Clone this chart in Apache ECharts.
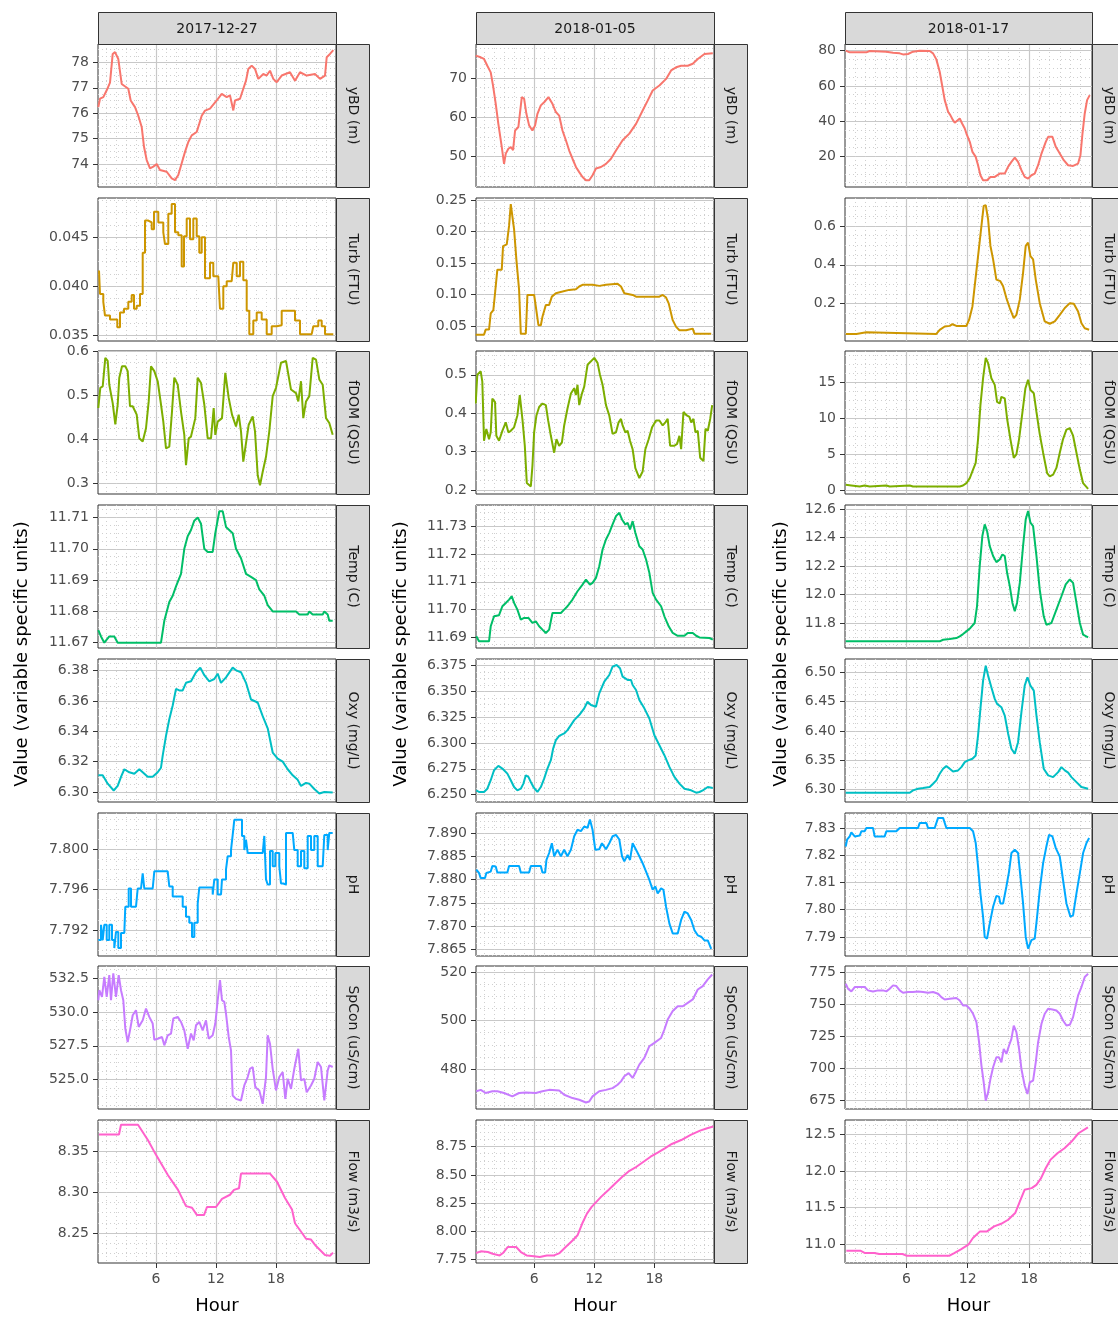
<!DOCTYPE html>
<html><head><meta charset="utf-8">
<script src="https://cdn.jsdelivr.net/npm/echarts@6/dist/echarts.min.js"></script>
<style>html,body{margin:0;padding:0;background:#fff}#c{width:1118px;height:1317px}</style>
</head><body><div id="c"></div>
<script>
// ---------------- DATA ----------------
const dates = ['2017-12-27', '2018-01-05', '2018-01-17'];
const variables = ['yBD (m)', 'Turb (FTU)', 'fDOM (QSU)', 'Temp (C)', 'Oxy (mg/L)', 'pH', 'SpCon (uS/cm)', 'Flow (m3/s)'];
const hourTicks = [6, 12, 18];
const xTitle = 'Hour';
const yTitle = 'Value (variable specific units)';

// hour range shown by each column
const hourRange = [[0.2, 24.0], [0.2, 23.95], [0.0, 24.15]];

// y ranges per panel
const yRange_1227 = [[73.1, 78.72], [0.0344, 0.0490], [0.2754, 0.6007], [11.6683, 11.714], [6.2934, 6.3877], [7.78942, 7.80357], [522.83, 533.39], [8.2132, 8.3888]];
const yRange_0105 = [[42.2, 78.64], [0.026, 0.2532], [0.1894, 0.5619], [11.6862, 11.7376], [6.2429, 6.3814], [7.86355, 7.8943], [463.5, 522.5], [7.721, 8.986]];
const yRange_0117 = [[2.5, 83.8], [0.0085, 0.7433], [-0.57, 19.4], [11.624, 12.63], [6.2791, 6.5226], [7.783, 7.8355], [668.5, 780.25], [10.741, 12.695]];

// y tick labels per panel
const yTicks_1227 = [['74','75','76','77','78'], ['0.035','0.040','0.045'], ['0.3','0.4','0.5','0.6'], ['11.67','11.68','11.69','11.70','11.71'], ['6.30','6.32','6.34','6.36','6.38'], ['7.792','7.796','7.800'], ['525.0','527.5','530.0','532.5'], ['8.25','8.30','8.35']];
const yTicks_0105 = [['50','60','70'], ['0.05','0.10','0.15','0.20','0.25'], ['0.2','0.3','0.4','0.5'], ['11.69','11.70','11.71','11.72','11.73'], ['6.250','6.275','6.300','6.325','6.350','6.375'], ['7.865','7.870','7.875','7.880','7.885','7.890'], ['480','500','520'], ['7.75','8.00','8.25','8.50','8.75']];
const yTicks_0117 = [['20','40','60','80'], ['0.2','0.4','0.6'], ['0','5','10','15'], ['11.8','12.0','12.2','12.4','12.6'], ['6.30','6.35','6.40','6.45','6.50'], ['7.79','7.80','7.81','7.82','7.83'], ['675','700','725','750','775'], ['11.0','11.5','12.0','12.5']];

// ---- 2017-12-27 : [hour, value]
const yBD_1227 = [[0.23,76.24],[0.4,76.57],[0.73,76.63],[1.07,76.9],[1.4,77.2],[1.67,78.33],[1.9,78.4],[2.23,78.13],[2.57,77.15],[2.73,77.08],[3.23,76.96],[3.47,76.5],[3.9,76.24],[4.23,75.9],[4.57,75.46],[4.8,74.68],[5.07,74.16],[5.4,73.83],[5.73,73.9],[6.07,74.0],[6.4,73.77],[7.07,73.7],[7.57,73.44],[7.9,73.37],[8.23,73.57],[8.57,74.03],[8.9,74.48],[9.23,74.87],[9.57,75.13],[10.07,75.26],[10.33,75.59],[10.57,75.9],[10.9,76.1],[11.4,76.18],[12.07,76.5],[12.57,76.76],[13.07,76.63],[13.4,76.7],[13.73,76.11],[13.9,76.5],[14.4,76.57],[14.73,76.96],[15.0,77.28],[15.23,77.74],[15.57,77.87],[15.9,77.74],[16.23,77.35],[16.73,77.54],[17.07,77.48],[17.4,77.67],[17.73,77.35],[18.07,77.22],[18.57,77.48],[19.4,77.61],[19.9,77.28],[20.4,77.61],[21.07,77.48],[21.9,77.54],[22.4,77.35],[22.9,77.48],[23.07,78.2],[23.4,78.33],[23.73,78.48]];
const turb_1227 = [[0.3,0.0416],[0.4,0.0392],[0.73,0.0384],[0.9,0.037],[1.4,0.0366],[1.9,0.0366],[2.13,0.0358],[2.4,0.0373],[2.8,0.0377],[3.23,0.0384],[3.57,0.0391],[3.8,0.0377],[4.07,0.038],[4.4,0.0392],[4.67,0.0434],[4.9,0.0467],[5.23,0.0465],[5.57,0.0458],[5.8,0.0476],[6.23,0.0465],[6.73,0.0455],[6.9,0.0443],[7.23,0.0474],[7.57,0.0484],[7.9,0.0455],[8.23,0.0452],[8.57,0.042],[8.8,0.0451],[9.07,0.0469],[9.4,0.0448],[9.73,0.0469],[10.07,0.0451],[10.33,0.0434],[10.57,0.045],[10.9,0.0408],[11.4,0.0424],[11.73,0.041],[12.23,0.041],[12.4,0.0377],[12.73,0.04],[13.07,0.0405],[13.57,0.0405],[13.73,0.0424],[14.07,0.041],[14.4,0.0425],[14.73,0.0406],[15.07,0.0375],[15.33,0.0351],[15.73,0.0365],[16.07,0.0373],[16.57,0.0366],[17.07,0.0351],[17.57,0.0359],[18.07,0.036],[18.57,0.0375],[19.4,0.0375],[19.9,0.0365],[20.4,0.0351],[21.57,0.0351],[21.73,0.0359],[22.23,0.0365],[22.57,0.0359],[22.9,0.0351],[23.73,0.0351]];
const fdom_1227 = [[0.23,0.471],[0.43,0.517],[0.67,0.52],[0.93,0.585],[1.17,0.578],[1.33,0.524],[1.67,0.482],[1.93,0.434],[2.17,0.479],[2.33,0.54],[2.6,0.566],[2.93,0.566],[3.17,0.555],[3.4,0.475],[3.67,0.475],[4.07,0.456],[4.33,0.402],[4.67,0.395],[5.0,0.425],[5.27,0.486],[5.5,0.566],[5.83,0.555],[6.17,0.532],[6.5,0.479],[6.73,0.44],[7.0,0.379],[7.33,0.383],[7.6,0.463],[7.83,0.54],[8.17,0.524],[8.5,0.463],[8.83,0.41],[9.0,0.341],[9.27,0.402],[9.5,0.406],[9.93,0.448],[10.17,0.54],[10.5,0.528],[10.83,0.479],[11.17,0.402],[11.5,0.402],[11.77,0.471],[11.93,0.41],[12.17,0.44],[12.6,0.448],[12.93,0.551],[13.27,0.494],[13.6,0.456],[14.0,0.429],[14.27,0.456],[14.5,0.418],[14.73,0.349],[15.0,0.391],[15.27,0.433],[15.67,0.452],[15.9,0.418],[16.17,0.318],[16.4,0.295],[16.67,0.326],[17.0,0.36],[17.33,0.418],[17.67,0.498],[18.0,0.517],[18.5,0.574],[19.0,0.578],[19.5,0.513],[20.0,0.505],[20.23,0.486],[20.5,0.532],[20.73,0.448],[21.0,0.486],[21.33,0.498],[21.67,0.585],[22.0,0.581],[22.33,0.536],[22.67,0.524],[23.0,0.448],[23.33,0.437],[23.67,0.41]];
const temp_1227 = [[0.23,11.674],[0.5,11.672],[0.83,11.670],[1.33,11.672],[1.83,11.672],[2.17,11.670],[6.5,11.670],[6.83,11.677],[7.33,11.683],[7.67,11.685],[8.0,11.688],[8.5,11.692],[8.83,11.700],[9.17,11.704],[9.5,11.706],[9.83,11.709],[10.17,11.710],[10.5,11.708],[10.83,11.700],[11.17,11.699],[11.67,11.699],[11.93,11.705],[12.33,11.712],[12.67,11.712],[13.0,11.707],[13.67,11.705],[14.0,11.700],[14.5,11.697],[15.0,11.692],[15.5,11.691],[16.0,11.690],[16.33,11.687],[16.83,11.685],[17.17,11.682],[17.67,11.680],[20.0,11.680],[20.33,11.679],[21.17,11.679],[21.33,11.680],[21.67,11.679],[22.67,11.679],[22.83,11.680],[23.17,11.679],[23.33,11.677],[23.67,11.677]];
const oxy_1227 = [[0.23,6.311],[0.67,6.311],[1.17,6.3055],[1.77,6.301],[2.17,6.304],[2.5,6.31],[2.83,6.315],[3.33,6.313],[3.83,6.312],[4.33,6.315],[4.67,6.313],[5.17,6.31],[5.67,6.31],[6.17,6.313],[6.5,6.316],[6.67,6.324],[7.0,6.337],[7.33,6.348],[7.67,6.357],[8.0,6.368],[8.33,6.367],[8.67,6.367],[9.0,6.372],[9.5,6.373],[10.0,6.379],[10.43,6.382],[10.83,6.377],[11.33,6.373],[11.83,6.3745],[12.17,6.378],[12.5,6.372],[13.0,6.3756],[13.67,6.382],[14.07,6.38],[14.5,6.379],[15.0,6.372],[15.5,6.361],[16.17,6.359],[16.67,6.35],[17.17,6.342],[17.67,6.326],[18.17,6.322],[18.67,6.32],[19.17,6.315],[19.67,6.311],[20.17,6.308],[20.5,6.304],[21.0,6.306],[21.33,6.3055],[21.83,6.302],[22.33,6.299],[22.83,6.3],[23.67,6.2996]];
const ph_1227 = [[0.23,7.791],[0.5,7.7925],[0.67,7.791],[0.83,7.7925],[1.07,7.791],[1.33,7.7925],[1.6,7.791],[1.83,7.7902],[2.0,7.7918],[2.23,7.7902],[2.5,7.7917],[2.83,7.7918],[2.93,7.7943],[3.27,7.7961],[3.5,7.7943],[4.0,7.7943],[4.17,7.7961],[4.5,7.7961],[4.67,7.7976],[4.83,7.7961],[5.67,7.7961],[5.83,7.7978],[7.17,7.7978],[7.33,7.7963],[7.67,7.7953],[8.33,7.7953],[8.67,7.7943],[9.0,7.7933],[9.33,7.7927],[9.6,7.7913],[9.83,7.7927],[10.17,7.7946],[10.33,7.7962],[11.33,7.7962],[11.67,7.7955],[11.83,7.797],[12.17,7.7955],[12.5,7.7955],[12.6,7.797],[13.0,7.798],[13.17,7.7993],[13.5,7.7999],[13.67,7.8014],[13.83,7.8029],[14.33,7.8029],[14.6,7.8013],[14.83,7.7999],[15.0,7.8009],[15.17,7.7996],[16.67,7.7996],[16.83,7.8013],[17.0,7.797],[17.17,7.7965],[17.4,7.7998],[17.67,7.7983],[17.93,7.7996],[18.33,7.7983],[18.5,7.7966],[18.73,7.7965],[19.0,7.8016],[19.67,7.8016],[19.83,7.7999],[20.17,7.7983],[20.5,7.7998],[20.83,7.7981],[21.17,7.8013],[21.5,7.7999],[21.83,7.8013],[22.17,7.7983],[22.67,7.7983],[22.83,7.8014],[23.17,7.7999],[23.33,7.8016],[23.67,7.8016]];
const spcon_1227 = [[0.23,530.86],[0.33,531.6],[0.6,531.11],[0.83,532.59],[1.07,531.11],[1.33,532.72],[1.5,530.86],[1.73,532.84],[2.0,531.11],[2.27,532.72],[2.5,531.6],[2.73,530.86],[2.93,528.77],[3.17,527.78],[3.4,528.64],[3.67,529.75],[4.0,530.12],[4.27,528.89],[4.67,529.38],[5.0,530.25],[5.33,529.63],[5.67,529.14],[5.83,527.95],[6.17,528.02],[6.6,528.15],[6.83,527.53],[7.17,528.27],[7.5,528.4],[7.73,529.51],[8.17,529.63],[8.5,529.26],[8.83,528.64],[9.17,527.28],[9.5,528.4],[9.77,527.9],[10.0,529.01],[10.33,529.26],[10.67,528.64],[11.0,529.38],[11.27,528.02],[11.67,528.27],[11.93,529.14],[12.17,530.86],[12.4,532.35],[12.6,530.86],[12.83,530.74],[13.0,529.88],[13.27,528.15],[13.5,527.16],[13.67,523.83],[14.0,523.58],[14.5,523.46],[14.83,524.57],[15.17,525.19],[15.4,525.8],[15.67,525.93],[15.93,524.44],[16.33,524.2],[16.67,523.21],[17.0,525.19],[17.17,528.27],[17.4,527.65],[17.67,525.8],[18.0,524.2],[18.33,525.19],[18.67,525.56],[18.93,523.58],[19.17,525.06],[19.5,524.32],[19.83,525.8],[20.23,527.28],[20.5,524.94],[20.83,525.06],[21.07,524.07],[21.5,524.57],[21.83,525.06],[22.17,526.3],[22.5,525.93],[22.83,523.46],[23.17,525.68],[23.33,526.05],[23.67,525.93]];
const flow_1227 = [[0.3,8.371],[2.3,8.371],[2.5,8.383],[4.2,8.383],[5.2,8.364],[6.0,8.346],[7.2,8.321],[8.2,8.303],[9.0,8.283],[9.6,8.281],[10.1,8.272],[10.8,8.272],[11.1,8.282],[12.0,8.282],[12.6,8.292],[13.4,8.297],[13.8,8.303],[14.3,8.305],[14.5,8.323],[17.4,8.323],[18.1,8.313],[18.9,8.293],[19.6,8.279],[19.9,8.262],[20.6,8.25],[21.0,8.243],[21.5,8.242],[22.0,8.234],[22.9,8.223],[23.4,8.222],[23.7,8.226]];

// ---- 2018-01-05
const yBD_0105 = [[0.17,75.68],[0.67,75.25],[1.0,74.83],[1.33,73.1],[1.67,71.4],[1.9,68.05],[2.17,63.4],[2.43,58.3],[2.77,52.4],[3.0,48.1],[3.17,50.7],[3.43,51.95],[3.67,52.4],[3.9,51.6],[4.1,56.6],[4.43,57.5],[4.6,57.5],[4.77,65.1],[5.0,64.7],[5.23,60.85],[5.5,57.9],[5.83,56.6],[6.1,57.9],[6.33,60.85],[6.67,63.0],[7.0,63.8],[7.43,65.1],[7.83,63.4],[8.17,61.3],[8.5,60.4],[8.83,56.6],[9.17,54.1],[9.5,51.5],[9.83,49.4],[10.17,47.3],[10.5,46.0],[10.83,44.75],[11.17,43.9],[11.5,43.9],[11.83,45.2],[12.17,46.9],[12.67,47.3],[13.17,48.1],[13.67,49.4],[14.17,51.5],[14.83,54.1],[15.5,55.8],[16.17,58.3],[16.83,61.7],[17.33,64.2],[17.83,66.8],[18.5,68.05],[19.17,69.75],[19.67,71.9],[20.17,72.7],[20.67,73.1],[21.33,73.1],[21.83,73.6],[22.33,74.8],[23.0,76.1],[23.83,76.3]];
const turb_0105 = [[0.17,0.0361],[1.0,0.0361],[1.17,0.0441],[1.5,0.0441],[1.67,0.0698],[1.93,0.0751],[2.1,0.1019],[2.33,0.1393],[2.77,0.1393],[2.9,0.1767],[3.27,0.1794],[3.5,0.2088],[3.67,0.2436],[3.83,0.241],[4.0,0.2035],[4.23,0.1553],[4.5,0.1072],[4.67,0.0377],[5.17,0.0377],[5.23,0.0591],[5.33,0.0992],[6.0,0.0992],[6.17,0.0805],[6.43,0.0511],[6.67,0.0511],[6.83,0.0644],[7.17,0.0832],[7.5,0.0832],[7.77,0.0965],[8.17,0.1019],[8.83,0.1045],[9.5,0.1072],[10.17,0.1083],[10.5,0.1126],[10.83,0.1152],[11.83,0.1152],[12.5,0.1136],[13.17,0.1152],[14.33,0.1168],[14.67,0.1126],[15.0,0.1019],[15.83,0.0992],[16.17,0.0965],[17.17,0.0965],[17.33,0.0992],[17.83,0.0965],[18.5,0.0965],[18.83,0.0992],[19.17,0.095],[19.43,0.0858],[19.83,0.0591],[20.17,0.0484],[20.5,0.043],[21.17,0.043],[21.33,0.0457],[21.83,0.0457],[22.0,0.0377],[23.67,0.0377]];
const fdom_0105 = [[0.17,0.425],[0.33,0.5],[0.67,0.509],[0.83,0.482],[1.0,0.328],[1.23,0.359],[1.5,0.332],[1.67,0.35],[1.83,0.438],[2.1,0.429],[2.23,0.341],[2.5,0.328],[2.83,0.354],[3.17,0.376],[3.43,0.35],[3.67,0.354],[4.0,0.363],[4.33,0.394],[4.57,0.447],[4.83,0.385],[5.07,0.315],[5.27,0.218],[5.67,0.209],[5.83,0.262],[6.0,0.35],[6.23,0.394],[6.5,0.416],[6.83,0.425],[7.17,0.421],[7.4,0.381],[7.67,0.341],[8.0,0.297],[8.23,0.332],[8.5,0.315],[8.77,0.323],[9.0,0.368],[9.33,0.412],[9.67,0.451],[10.0,0.465],[10.17,0.447],[10.33,0.474],[10.5,0.421],[10.77,0.451],[11.0,0.469],[11.33,0.526],[11.67,0.535],[12.0,0.544],[12.33,0.531],[12.57,0.5],[12.83,0.474],[13.17,0.421],[13.5,0.394],[13.83,0.346],[14.17,0.35],[14.43,0.376],[14.67,0.385],[14.83,0.368],[15.1,0.35],[15.33,0.354],[15.57,0.328],[15.83,0.306],[16.1,0.257],[16.5,0.231],[16.83,0.248],[17.1,0.306],[17.43,0.332],[17.77,0.363],[18.17,0.381],[18.5,0.381],[18.83,0.368],[19.1,0.376],[19.33,0.385],[19.57,0.315],[20.0,0.315],[20.27,0.32],[20.5,0.341],[20.67,0.306],[20.9,0.403],[21.23,0.394],[21.5,0.39],[21.67,0.376],[21.9,0.385],[22.1,0.35],[22.33,0.354],[22.57,0.284],[22.9,0.275],[23.1,0.359],[23.33,0.354],[23.57,0.385],[23.77,0.421]];
const temp_0105 = [[0.23,11.6904],[0.5,11.6886],[1.5,11.6886],[1.67,11.694],[2.0,11.6976],[2.5,11.698],[2.83,11.7012],[3.17,11.7024],[3.5,11.7036],[3.77,11.7048],[4.0,11.7024],[4.33,11.700],[4.67,11.6964],[5.0,11.697],[5.43,11.697],[5.83,11.6952],[6.17,11.6958],[6.5,11.694],[6.83,11.6928],[7.17,11.6916],[7.5,11.6928],[7.83,11.6988],[8.17,11.6988],[8.67,11.6988],[9.0,11.700],[9.33,11.7012],[9.83,11.7036],[10.33,11.7066],[10.83,11.709],[11.17,11.7108],[11.57,11.709],[11.83,11.7096],[12.17,11.7114],[12.5,11.7156],[12.83,11.7216],[13.17,11.7252],[13.5,11.7276],[13.83,11.7306],[14.17,11.7336],[14.5,11.7348],[14.77,11.7324],[15.1,11.7306],[15.33,11.7312],[15.57,11.7288],[15.83,11.7318],[16.1,11.7276],[16.5,11.7228],[16.83,11.7216],[17.17,11.718],[17.5,11.7132],[17.83,11.706],[18.17,11.7036],[18.67,11.7012],[19.0,11.6976],[19.43,11.694],[19.83,11.6916],[20.33,11.6906],[21.0,11.6906],[21.33,11.6916],[21.83,11.6916],[22.17,11.6906],[22.5,11.69],[23.5,11.6898],[23.83,11.6892]];
const oxy_0105 = [[0.23,6.2542],[0.5,6.2526],[1.0,6.2526],[1.33,6.2558],[1.67,6.264],[2.0,6.2737],[2.43,6.2779],[2.83,6.2753],[3.33,6.2704],[3.67,6.264],[4.0,6.2574],[4.33,6.2542],[4.67,6.2558],[4.93,6.2607],[5.17,6.2688],[5.43,6.2672],[5.67,6.2623],[5.93,6.2574],[6.33,6.2526],[6.67,6.2574],[7.0,6.2655],[7.33,6.2753],[7.67,6.2834],[7.9,6.2947],[8.17,6.3028],[8.5,6.307],[9.0,6.3093],[9.33,6.3125],[9.67,6.3174],[10.0,6.3222],[10.5,6.3271],[11.0,6.3336],[11.33,6.34],[11.67,6.3368],[12.17,6.3352],[12.5,6.3481],[13.0,6.3595],[13.5,6.3659],[13.83,6.374],[14.23,6.3756],[14.57,6.3724],[14.83,6.3643],[15.33,6.3611],[15.67,6.3611],[15.83,6.3562],[16.17,6.3514],[16.5,6.3417],[17.0,6.3336],[17.5,6.3238],[18.0,6.3076],[18.5,6.2979],[19.0,6.2882],[19.5,6.2769],[20.0,6.2672],[20.5,6.2607],[21.0,6.2558],[21.67,6.2542],[22.17,6.2519],[22.5,6.2526],[22.83,6.2542],[23.33,6.2574],[23.83,6.2565]];
const ph_0105 = [[0.23,7.8821],[0.5,7.8814],[0.67,7.8803],[1.1,7.8803],[1.23,7.8814],[1.67,7.8817],[1.83,7.8829],[2.17,7.8828],[2.33,7.8815],[3.33,7.8815],[3.5,7.8829],[4.5,7.8829],[4.67,7.8815],[5.5,7.8815],[5.67,7.8829],[6.67,7.8829],[6.83,7.8815],[7.1,7.8815],[7.23,7.8842],[7.5,7.8857],[7.77,7.8878],[8.0,7.885],[8.33,7.8864],[8.67,7.885],[9.0,7.8864],[9.33,7.885],[9.67,7.8864],[10.0,7.8893],[10.33,7.8907],[10.67,7.8904],[11.0,7.8914],[11.33,7.8911],[11.57,7.8929],[11.83,7.8907],[12.1,7.8864],[12.5,7.8865],[12.77,7.8878],[13.17,7.8865],[13.5,7.8878],[13.83,7.8893],[14.17,7.8896],[14.5,7.8886],[14.77,7.885],[15.0,7.8839],[15.33,7.8853],[15.57,7.8842],[15.83,7.8878],[16.17,7.8864],[16.5,7.885],[16.83,7.8835],[17.17,7.8817],[17.5,7.8799],[17.83,7.8778],[18.1,7.8785],[18.33,7.877],[18.67,7.8781],[18.9,7.8778],[19.17,7.8741],[19.5,7.8705],[19.83,7.8684],[20.33,7.8684],[20.67,7.8713],[21.0,7.8731],[21.33,7.8727],[21.67,7.8713],[22.0,7.8691],[22.33,7.868],[22.67,7.8677],[23.0,7.8669],[23.33,7.8669],[23.67,7.8651]];
const spcon_0105 = [[0.23,470.8],[0.67,471.4],[1.17,470.1],[1.83,470.8],[2.33,470.8],[3.0,470.1],[3.83,468.7],[4.5,470.1],[5.17,470.3],[6.17,470.1],[6.83,470.8],[7.5,471.4],[8.5,471.1],[9.0,469.4],[9.83,468.0],[10.5,467.3],[11.17,466.2],[11.5,466.6],[11.83,468.7],[12.5,470.8],[13.17,471.4],[13.83,472.1],[14.33,473.5],[14.67,474.9],[15.0,477.0],[15.43,478.3],[15.83,476.3],[16.17,479.0],[16.5,481.8],[17.0,484.6],[17.5,489.4],[18.0,490.8],[18.67,492.8],[19.0,496.3],[19.33,500.4],[19.83,503.9],[20.33,505.9],[20.83,505.9],[21.33,507.3],[21.83,508.7],[22.33,512.8],[22.83,514.2],[23.33,517.0],[23.77,519.0]];
const flow_0105 = [[0.21,7.809],[0.68,7.824],[1.39,7.818],[1.86,7.803],[2.56,7.788],[2.89,7.809],[3.36,7.862],[4.21,7.862],[4.68,7.818],[5.25,7.788],[6.0,7.780],[6.56,7.774],[7.27,7.788],[7.98,7.788],[8.54,7.809],[9.15,7.862],[9.86,7.922],[10.33,7.966],[10.8,8.07],[11.27,8.158],[11.74,8.217],[12.21,8.262],[12.68,8.306],[13.39,8.365],[14.09,8.425],[14.8,8.484],[15.51,8.537],[16.21,8.572],[16.92,8.617],[17.62,8.661],[18.33,8.697],[19.04,8.735],[19.74,8.774],[20.68,8.809],[21.62,8.854],[22.56,8.892],[23.27,8.913],[23.88,8.928]];

// ---- 2018-01-17
const yBD_0117 = [[0.07,80],[0.46,79.05],[2.09,79.05],[2.41,79.81],[4.04,79.43],[4.7,78.86],[5.35,78.48],[5.67,77.9],[6.16,78.1],[6.65,79.43],[7.3,80],[8.28,79.81],[8.61,78.48],[8.93,75.06],[9.26,68.03],[9.52,59.5],[9.75,51.9],[10.08,45.25],[10.3,43.36],[10.56,40.5],[10.73,39.0],[10.89,39.56],[11.22,41.46],[11.45,38.61],[11.71,35.76],[11.87,32.9],[12.2,28.16],[12.46,22.47],[12.78,19.62],[13.01,14.88],[13.24,9.18],[13.5,6.33],[13.89,6.33],[14.22,8.23],[14.64,8.23],[15.13,10.13],[15.62,10.13],[15.94,13.93],[16.27,16.78],[16.6,19.24],[16.92,16.78],[17.25,12.03],[17.57,8.23],[17.9,7.28],[18.23,9.18],[18.55,10.13],[18.88,14.88],[19.21,21.52],[19.63,28.16],[19.86,31.02],[20.28,31.02],[20.61,25.32],[21.0,21.52],[21.39,17.73],[21.81,14.88],[22.3,14.5],[22.79,15.83],[23.02,20.57],[23.22,32.9],[23.44,44.31],[23.67,51.9],[23.93,54.75]];
const turb_0117 = [[0.07,0.0448],[1.11,0.0448],[1.27,0.0534],[2.09,0.0534],[2.25,0.0448],[8.93,0.0448],[9.26,0.0655],[9.75,0.0828],[10.24,0.0862],[10.5,0.0948],[10.89,0.0862],[11.87,0.0862],[12.13,0.117],[12.46,0.186],[12.68,0.29],[13.01,0.445],[13.34,0.6],[13.56,0.703],[13.76,0.707],[13.99,0.634],[14.22,0.497],[14.48,0.428],[14.8,0.324],[15.19,0.316],[15.46,0.29],[15.78,0.229],[16.11,0.178],[16.5,0.126],[16.76,0.143],[17.09,0.221],[17.41,0.359],[17.67,0.497],[17.9,0.514],[18.13,0.445],[18.39,0.428],[18.65,0.324],[19.04,0.203],[19.53,0.109],[20.02,0.097],[20.51,0.109],[21.0,0.143],[21.49,0.178],[21.98,0.203],[22.37,0.2],[22.79,0.16],[23.12,0.1],[23.44,0.074],[23.87,0.066]];
const fdom_0117 = [[0.07,0.71],[0.62,0.62],[0.78,0.47],[1.44,0.47],[1.92,0.62],[2.41,0.47],[4.04,0.62],[4.37,0.47],[6.33,0.62],[6.65,0.47],[9.26,0.47],[11.22,0.47],[11.54,0.61],[11.87,0.94],[12.2,1.65],[12.52,2.84],[12.78,3.78],[13.01,7.1],[13.24,11.8],[13.5,15.6],[13.76,18.45],[13.99,17.7],[14.31,15.6],[14.64,14.67],[14.87,12.3],[15.13,12.07],[15.29,13.0],[15.62,12.78],[15.85,9.94],[16.17,7.1],[16.5,4.49],[16.76,4.97],[17.02,7.1],[17.35,10.88],[17.64,14.2],[17.9,15.38],[18.13,13.96],[18.46,13.49],[18.72,10.88],[19.04,7.8],[19.37,5.2],[19.76,2.36],[20.02,1.89],[20.35,2.13],[20.67,3.07],[21.0,5.2],[21.32,7.1],[21.65,8.42],[21.98,8.61],[22.3,7.57],[22.63,5.2],[22.96,2.84],[23.28,0.94],[23.77,0.14]];
const temp_0117 = [[0.07,11.671],[9.26,11.671],[9.59,11.682],[10.24,11.687],[10.89,11.694],[11.22,11.706],[11.54,11.722],[11.87,11.741],[12.26,11.765],[12.68,11.8],[12.91,11.918],[13.17,12.2],[13.43,12.412],[13.66,12.494],[13.89,12.447],[14.15,12.341],[14.48,12.271],[14.8,12.228],[15.13,12.247],[15.39,12.282],[15.62,12.271],[15.85,12.153],[16.11,12.059],[16.37,11.941],[16.6,11.882],[16.82,11.941],[17.09,12.082],[17.41,12.341],[17.67,12.529],[17.9,12.588],[18.13,12.506],[18.39,12.482],[18.72,12.271],[19.04,12.035],[19.43,11.847],[19.69,11.788],[20.18,11.8],[20.67,11.894],[21.16,11.988],[21.58,12.071],[21.98,12.106],[22.3,12.082],[22.63,11.941],[22.96,11.8],[23.28,11.718],[23.77,11.699]];
const oxy_0117 = [[0.07,6.2949],[6.33,6.2949],[6.65,6.2989],[7.14,6.3017],[7.63,6.3028],[8.28,6.3045],[8.61,6.3102],[8.93,6.3159],[9.26,6.3272],[9.59,6.3357],[9.91,6.3402],[10.24,6.3357],[10.56,6.3312],[11.05,6.3329],[11.38,6.3385],[11.71,6.347],[12.03,6.3499],[12.46,6.3527],[12.78,6.3584],[13.01,6.3924],[13.24,6.4377],[13.5,6.4858],[13.76,6.5113],[13.99,6.4943],[14.31,6.4745],[14.64,6.4547],[14.87,6.4462],[15.29,6.4405],[15.62,6.4263],[15.94,6.3963],[16.27,6.3697],[16.6,6.3612],[16.92,6.381],[17.25,6.432],[17.57,6.4773],[17.84,6.4915],[18.13,6.4773],[18.46,6.4688],[18.72,6.4263],[19.04,6.381],[19.43,6.3357],[19.86,6.3244],[20.35,6.3215],[20.84,6.33],[21.16,6.3385],[21.49,6.3329],[21.82,6.329],[22.14,6.3215],[22.63,6.313],[23.12,6.3045],[23.77,6.3017]];
const ph_0117 = [[0.07,7.8232],[0.2,7.8257],[0.46,7.8269],[0.62,7.8284],[0.95,7.8269],[1.44,7.8272],[1.6,7.8288],[1.92,7.8288],[2.09,7.83],[2.74,7.83],[2.9,7.8269],[3.88,7.8269],[4.04,7.8288],[5.02,7.8288],[5.35,7.83],[7.14,7.83],[7.3,7.8318],[7.96,7.8318],[8.12,7.83],[8.77,7.83],[9.1,7.8337],[9.59,7.8337],[9.91,7.83],[12.2,7.83],[12.52,7.8288],[12.78,7.8245],[13.01,7.8158],[13.24,7.806],[13.5,7.7974],[13.66,7.79],[13.89,7.7894],[14.15,7.7949],[14.48,7.8011],[14.8,7.805],[15.06,7.8048],[15.19,7.8023],[15.46,7.8023],[15.78,7.8085],[16.04,7.814],[16.27,7.8208],[16.6,7.822],[16.92,7.8208],[17.15,7.8122],[17.41,7.8023],[17.67,7.79],[17.9,7.7857],[18.23,7.7888],[18.55,7.7894],[18.78,7.7974],[19.04,7.8072],[19.37,7.8171],[19.69,7.8232],[19.95,7.8275],[20.28,7.8269],[20.61,7.8226],[21.0,7.8195],[21.32,7.8109],[21.65,7.8023],[22.04,7.7974],[22.3,7.798],[22.63,7.806],[22.96,7.8134],[23.28,7.8208],[23.61,7.8245],[23.87,7.8263]];
const spcon_0117 = [[0.07,766.4],[0.29,762.5],[0.62,760.4],[0.95,763.8],[1.44,763.8],[1.92,763.8],[2.25,761.2],[2.74,760.4],[3.23,761.2],[3.72,761.2],[4.04,760.4],[4.37,762.5],[4.7,765.1],[5.02,764.6],[5.35,761.2],[5.67,759.3],[6.16,759.9],[6.65,759.9],[7.14,760.4],[7.63,759.9],[8.12,759.3],[8.61,759.9],[9.1,758.6],[9.42,755.9],[9.75,754.1],[10.24,754.6],[10.89,755.2],[11.22,753.3],[11.54,749.4],[11.87,749.4],[12.2,746.8],[12.52,742.9],[12.85,736.4],[13.11,720.7],[13.34,702.4],[13.56,689.4],[13.76,675],[13.99,681.5],[14.22,692.0],[14.48,701.1],[14.8,708.9],[15.06,708.9],[15.29,705.0],[15.52,715.5],[15.78,711.6],[16.04,718.1],[16.27,723.3],[16.5,733.7],[16.76,728.5],[17.02,715.5],[17.25,699.8],[17.57,686.7],[17.84,680.2],[18.07,689.4],[18.39,690.7],[18.65,705.0],[18.88,720.7],[19.21,735.1],[19.53,742.9],[19.86,746.8],[20.28,746.3],[20.67,745.5],[21.0,742.9],[21.32,737.7],[21.65,733.7],[21.98,734.3],[22.3,740.3],[22.56,749.4],[22.79,757.2],[23.12,763.8],[23.44,771.6],[23.77,774.2]];
const flow_0117 = [[0.13,10.909],[1.5,10.909],[1.96,10.877],[2.88,10.877],[3.34,10.864],[5.63,10.864],[6.0,10.841],[10.22,10.841],[10.68,10.877],[11.37,10.932],[12.06,10.991],[12.51,11.082],[13.2,11.173],[13.89,11.173],[14.58,11.241],[15.27,11.277],[15.95,11.332],[16.64,11.423],[17.1,11.582],[17.56,11.741],[18.25,11.764],[18.71,11.809],[19.17,11.9],[19.62,12.036],[20.08,12.15],[20.77,12.241],[21.46,12.309],[22.15,12.4],[22.83,12.514],[23.75,12.595]];

// ---------------- ASSEMBLY ----------------
const columnsData = [
  [yBD_1227, turb_1227, fdom_1227, temp_1227, oxy_1227, ph_1227, spcon_1227, flow_1227],
  [yBD_0105, turb_0105, fdom_0105, temp_0105, oxy_0105, ph_0105, spcon_0105, flow_0105],
  [yBD_0117, turb_0117, fdom_0117, temp_0117, oxy_0117, ph_0117, spcon_0117, flow_0117]
];
const columnsRange = [yRange_1227, yRange_0105, yRange_0117];
const columnsTicks = [yTicks_1227, yTicks_0105, yTicks_0117];
// series drawn as stepped (quantised sensor readings)
const steppedSeries = [turb_1227, ph_1227];

// styling / layout
const COLORS = ['#F8766D', '#CD9600', '#7CAE00', '#00BE67', '#00BFC4', '#00A9FF', '#C77CFF', '#FF61CC'];
const FONT = '"DejaVu Sans", "Liberation Sans", sans-serif';
const colLeft = [98, 476, 845];
const colWidth = [238, 238, 247];
const rowTop0 = 44, rowPitch = 153.7, rowH = 143, stripW = 33, topStripY = 12;

const grids = [], xAxes = [], yAxes = [], series = [], graphics = [];
const minorLine = { show: true, lineStyle: { color: '#cfcfcf', width: 1, type: [1, 3] } };

for (let c = 0; c < 3; c++) {
  for (let r = 0; r < 8; r++) {
    const idx = c * 8 + r;
    const left = colLeft[c], w = colWidth[c];
    const top = Math.round(rowTop0 + r * rowPitch);
    const bottom = r === 7;
    grids.push({ left: left, top: top, width: w, height: rowH, show: true, backgroundColor: '#ffffff', borderColor: '#333333', borderWidth: 1, containLabel: false });
    xAxes.push({
      type: 'value', gridIndex: idx, min: hourRange[c][0], max: hourRange[c][1],
      minInterval: 6, maxInterval: 6,
      axisLine: { show: false },
      axisTick: { show: bottom, length: 5, customValues: hourTicks, lineStyle: { color: '#333333' } },
      axisLabel: { show: bottom, customValues: hourTicks, color: '#4d4d4d', fontFamily: FONT, fontSize: 14, margin: 9 },
      splitLine: { show: true, lineStyle: { color: '#c8c8c8', width: 1.2 } },
      minorTick: { show: false, splitNumber: 6 },
      minorSplitLine: minorLine
    });
    const labels = columnsTicks[c][r];
    const vals = labels.map(Number);
    const interval = +(vals[1] - vals[0]).toPrecision(6);
    yAxes.push({
      type: 'value', gridIndex: idx, min: columnsRange[c][r][0], max: columnsRange[c][r][1],
      minInterval: interval, maxInterval: interval,
      axisLine: { show: false },
      axisTick: { show: true, length: 5, customValues: vals, lineStyle: { color: '#333333' } },
      axisLabel: {
        show: true, customValues: vals, color: '#4d4d4d', fontFamily: FONT, fontSize: 14, margin: 9,
        formatter: function (v) {
          for (let k = 0; k < labels.length; k++) { if (Math.abs(vals[k] - v) < interval * 1e-3) return labels[k]; }
          return '';
        }
      },
      splitLine: { show: true, lineStyle: { color: '#c8c8c8', width: 1.2 } },
      minorTick: { show: false, splitNumber: 4 },
      minorSplitLine: minorLine
    });
    const d = columnsData[c][r];
    series.push({
      type: 'line', name: variables[r] + ' ' + dates[c], xAxisIndex: idx, yAxisIndex: idx,
      data: d, showSymbol: false, symbol: 'none', clip: true,
      step: steppedSeries.indexOf(d) >= 0 ? 'end' : false,
      lineStyle: { color: COLORS[r], width: 2 }, itemStyle: { color: COLORS[r] },
      emphasis: { disabled: true }, animation: false
    });
    // right-hand facet strip
    graphics.push({ type: 'rect', silent: true, z: 10, shape: { x: left + w + 0.5, y: top + 0.5, width: stripW, height: rowH }, style: { fill: '#d9d9d9', stroke: '#333333', lineWidth: 1 } });
    graphics.push({ type: 'text', silent: true, z: 11, x: left + w + stripW / 2 + 0.5, y: top + rowH / 2, rotation: -Math.PI / 2,
      style: { text: variables[r], fill: '#1a1a1a', font: '14px ' + FONT, textAlign: 'center', textVerticalAlign: 'middle', align: 'center', verticalAlign: 'middle' } });
  }
  const left = colLeft[c], w = colWidth[c];
  // top strip
  graphics.push({ type: 'rect', silent: true, z: 10, shape: { x: left + 0.5, y: topStripY + 0.5, width: w, height: rowTop0 - topStripY }, style: { fill: '#d9d9d9', stroke: '#333333', lineWidth: 1 } });
  graphics.push({ type: 'text', silent: true, z: 11, x: left + w / 2, y: (topStripY + rowTop0) / 2 + 1,
    style: { text: dates[c], fill: '#1a1a1a', font: '14px ' + FONT, textAlign: 'center', textVerticalAlign: 'middle', align: 'center', verticalAlign: 'middle' } });
  // axis titles
  graphics.push({ type: 'text', silent: true, z: 11, x: left + w / 2, y: 1306,
    style: { text: xTitle, fill: '#000000', font: '18px ' + FONT, textAlign: 'center', textVerticalAlign: 'middle', align: 'center', verticalAlign: 'middle' } });
  graphics.push({ type: 'text', silent: true, z: 11, x: [22, 401, 781][c], y: 654, rotation: Math.PI / 2,
    style: { text: yTitle, fill: '#000000', font: '18px ' + FONT, textAlign: 'center', textVerticalAlign: 'middle', align: 'center', verticalAlign: 'middle' } });
}

const chart = echarts.init(document.getElementById('c'), null, { renderer: 'canvas' });
chart.setOption({
  animation: false,
  backgroundColor: '#ffffff',
  grid: grids, xAxis: xAxes, yAxis: yAxes, series: series,
  graphic: { elements: graphics }
});
</script>
</body></html>
